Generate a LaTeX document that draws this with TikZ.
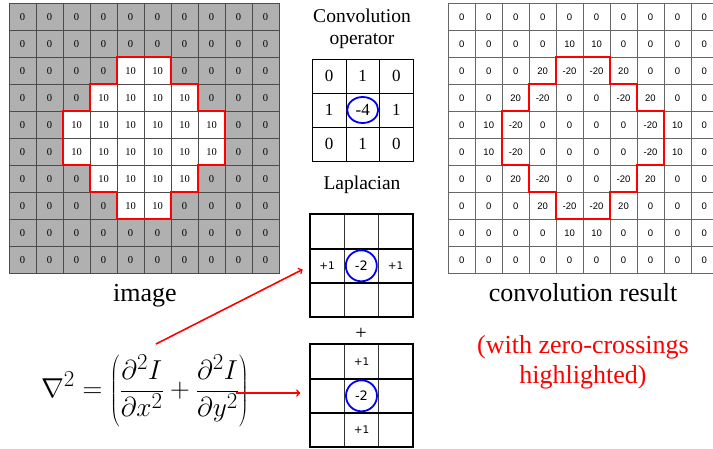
\documentclass[tikz,border=0pt]{standalone}
\usepackage{fontspec}
\setmainfont{Liberation Serif}
\newfontfamily\cellfont{Liberation Sans}
\newfontfamily\lapfont{DejaVu Sans}
\usetikzlibrary{shapes.geometric}

\tikzset{
  imgcell/.style={draw=black!70, line width=0.5pt, minimum width=27pt, minimum height=27pt,
    inner sep=0pt, outer sep=0pt, font=\fontsize{10.5}{12}\selectfont},
  rescell/.style={imgcell, draw=black!60, fill=white, font=\cellfont\fontsize{9.5}{11}\selectfont},
  opcell/.style={draw, line width=0.6pt, minimum width=33.7pt, minimum height=34pt,
    inner sep=0pt, outer sep=0pt, font=\fontsize{17}{20}\selectfont},
  lapcell/.style={draw=black!80, line width=0.6pt, minimum width=34.3pt, minimum height=34.3pt,
    inner sep=0pt, outer sep=0pt},
  lapnum/.style={inner sep=0pt, font=\lapfont\fontsize{10.5}{12}\selectfont},
  lapmid/.style={inner sep=0pt, font=\lapfont\fontsize{13}{14}\selectfont},
  lapedge/.style={line width=2pt},
  ring/.style={draw=blue, line width=1.8pt, circle, minimum size=31pt, inner sep=0pt},
  crossing/.style={red, line width=2pt},
  bigtext/.style={font=\fontsize{26}{30}\selectfont},
  midtext/.style={font=\fontsize{19.5}{22}\selectfont, align=center},
}

\begin{document}
\begin{tikzpicture}[x=1pt, y=-1pt]
    \useasboundingbox (0, 0) rectangle (713, 448);
    \clip (0, 0) rectangle (713, 448);

    \foreach \row [count=\ri from 0] in {{0,0,0,0,0,0,0,0,0,0},{0,0,0,0,0,0,0,0,0,0},
        {0,0,0,0,10,10,0,0,0,0},{0,0,0,10,10,10,10,0,0,0},{0,0,10,10,10,10,10,10,0,0},
        {0,0,10,10,10,10,10,10,0,0},{0,0,0,10,10,10,10,0,0,0},{0,0,0,0,10,10,0,0,0,0},
        {0,0,0,0,0,0,0,0,0,0},{0,0,0,0,0,0,0,0,0,0}} {
      \foreach \v [count=\ci from 0] in \row {
        \ifnum\v=10 \def\shade{white}\else\def\shade{black!31}\fi
        \path (22.5+27*\ci, 16.8+27*\ri) node [imgcell, fill=\shade] (img-\ri-\ci) {\v};
      }
    }

    \foreach \row [count=\ri from 0] in {{0,0,0,0,0,0,0,0,0,0},{0,0,0,0,10,10,0,0,0,0},
        {0,0,0,20,-20,-20,20,0,0,0},{0,0,20,-20,0,0,-20,20,0,0},{0,10,-20,0,0,0,0,-20,10,0},
        {0,10,-20,0,0,0,0,-20,10,0},{0,0,20,-20,0,0,-20,20,0,0},{0,0,0,20,-20,-20,20,0,0,0},
        {0,0,0,0,10,10,0,0,0,0},{0,0,0,0,0,0,0,0,0,0}} {
      \foreach \v [count=\ci from 0] in \row {
        \path (461.8+26.95*\ci, 16.8+27*\ri) node [rescell] (res-\ri-\ci) {\v};
      }
    }

    \foreach \g in {img, res} {
      \draw [crossing] (\g-2-4.north west) -- (\g-2-5.north east) |- (\g-3-6.north east)
        |- (\g-4-7.north east) -- (\g-5-7.south east) -| (\g-6-6.south east)
        -| (\g-7-5.south east) -- (\g-7-4.south west) |- (\g-6-3.south west)
        |- (\g-5-2.south west) -- (\g-4-2.north west) -| (\g-3-3.north west)
        -| (\g-2-4.north west) -- cycle;
    }

    \path (145, 296) node [bigtext] (imgname) {image};
    \path (583, 293) node [bigtext] (resname) {convolution result};
    \path (583, 362) node [bigtext, red, align=center] (note) {(with zero-crossings\\highlighted)};

    \path (362, 29) node [midtext] (opname) {Convolution\\operator};
    \foreach \row [count=\ri from 0] in {{0,1,0},{1,-4,1},{0,1,0}} {
      \foreach \v [count=\ci from 0] in \row {
        \path (329+33.7*\ci, 76+34*\ri) node [opcell] (op-\ri-\ci) {\v};
      }
    }
    \path (op-1-1) node [ring, ellipse, minimum width=31pt, minimum height=26pt] (opring) {};
    \path (362, 185) node [midtext] (lapname) {Laplacian};

    \foreach \ri in {0,1,2} {
      \foreach \ci in {0,1,2} {
        \path (327+34.3*\ci, 231.5+34.3*\ri) node [lapcell] (lh-\ri-\ci) {};
        \path (327.5+34*\ci, 361.5+34.3*\ri) node [lapcell] (lv-\ri-\ci) {};
      }
    }
    \draw [lapedge] (lh-0-0.north west) rectangle (lh-2-2.south east)
        (lh-1-0.north west) -- (lh-1-2.north east) (lh-2-0.north west) -- (lh-2-2.north east);
    \draw [lapedge] (lv-0-0.north west) rectangle (lv-2-2.south east)
        (lv-1-0.north west) -- (lv-1-2.north east) (lv-2-0.north west) -- (lv-2-2.north east);
    \path (lh-1-0) node [lapnum] (lhw) {+1};
    \path (lh-1-1) node [lapmid] (lhc) {-2};
    \path (lh-1-2) node [lapnum] (lhe) {+1};
    \path (lh-1-1) node [ring] (lhring) {};
    \path (lv-0-1) node [lapnum] (lvn) {+1};
    \path (lv-1-1) node [lapmid] (lvc) {-2};
    \path (lv-2-1) node [lapnum] (lvs) {+1};
    \path (lv-1-1) node [ring] (lvring) {};
    \path (361, 334) node [font=\fontsize{20}{22}\selectfont] (plus) {+};

    \path (145, 391) node [font=\Huge, scale=1.1] (eq)
        {$\displaystyle \nabla^2 = \left(\frac{\partial^2 I}{\partial x^2}
        + \frac{\partial^2 I}{\partial y^2}\right)$};
    \coordinate (eqtop) at (156, 344);
    \coordinate (eqright) at (236, 393);
    \draw [->, red, line width=1.6pt, shorten >=8pt] (eqtop) -- (lh-1-0.west);
    \draw [->, red, line width=1.6pt, shorten >=10pt] (eqright) -- (eqright -| lv-1-0.west);
\end{tikzpicture}
\end{document}
